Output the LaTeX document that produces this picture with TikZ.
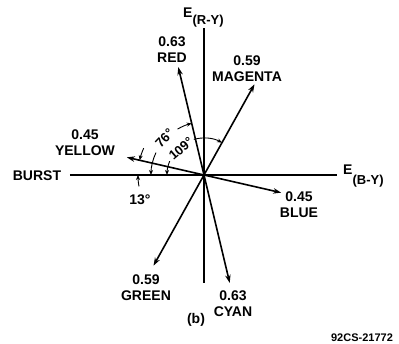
\documentclass[tikz,border=0pt]{standalone}
\usepackage{fontspec}
\setmainfont{Liberation Sans}
\usetikzlibrary{arrows.meta}

\begin{document}
\begin{tikzpicture}[x=1pt, y=1pt,
  vec/.style={line width=1.6pt, -{Stealth[length=8pt,width=5.5pt]}},
  axis/.style={line width=1.1pt},
  dim/.style={line width=0.9pt, -{Stealth[length=5pt,width=4pt]}},
  lbl/.style={font=\fontsize{14}{16}\selectfont\bfseries, align=center, inner sep=0pt},
  ang/.style={font=\fontsize{13}{13}\selectfont\bfseries, inner sep=0pt}]

  \useasboundingbox (-204,-169) rectangle (195,175);

  % --- 1. Axes ---
  \coordinate (O) at (0,0);
  \coordinate (burstend) at (-134,0);
  \coordinate (byend) at (133,0);
  \coordinate (rytop) at (0,147);
  \coordinate (rybot) at (0,-108);
  \draw[axis] (burstend) -- (byend);
  \draw[axis] (rybot) -- (rytop);
  \node[lbl, anchor=base west] (ry) at (-21,157)
    {E\raisebox{-7pt}{\fontsize{13}{13}\selectfont(R-Y)}};
  \node[lbl, anchor=base west] (by) at (139,0)
    {E\raisebox{-10pt}{\fontsize{13}{13}\selectfont(B-Y)}};
  \node[lbl] (burst) at (-167,-1) {BURST};

  % --- 2. Colour vectors: length = 176 x amplitude ---
  \coordinate (red) at (103.4:110.9);
  \coordinate (magenta) at (60.9:103.8);
  \coordinate (yellow) at (167.1:79.2);
  \coordinate (green) at (240.9:103.8);
  \coordinate (cyan) at (283.4:110.9);
  \coordinate (blue) at (347.1:79.2);
  \foreach \c in {red, magenta, yellow, green, cyan, blue}
    \draw[vec] (O) -- (\c);

  % --- 3. Vector labels ---
  \node[lbl] (lblred) at (-32,125.5) {0.63\\RED};
  \node[lbl] (lblmagenta) at (43,106) {0.59\\MAGENTA};
  \node[lbl] (lblyellow) at (-119,32) {0.45\\YELLOW};
  \node[lbl] (lblblue) at (95,-30) {0.45\\BLUE};
  \node[lbl] (lblgreen) at (-58,-113) {0.59\\GREEN};
  \node[lbl] (lblcyan) at (29,-129) {0.63\\CYAN};

  % --- 4. Angles ---
  % 76 deg: burst to red
  \draw[dim] (155:53) arc[start angle=155, end angle=180, radius=53];
  \draw[dim] (120:53) arc[start angle=120, end angle=103.4, radius=53];
  \node[ang, rotate=46.5] (a76) at (137:54) {76°};
  % 109 deg: burst to magenta
  \draw[dim] (158:37) arc[start angle=158, end angle=180, radius=37];
  \draw[dim] (106:37) arc[start angle=106, end angle=60.9, radius=37];
  \node[ang, rotate=40.6] (a109) at (131:35) {109°};
  % 13 deg: burst to yellow
  \draw[dim] (156:66) arc[start angle=156, end angle=167.1, radius=66];
  \draw[dim] (190:66) arc[start angle=190, end angle=180, radius=66];
  \node[lbl] (a13) at (-64,-25) {13°};

  % --- 5. Caption ---
  \node[lbl] (cap) at (-8,-145) {(b)};
  \node[font=\fontsize{11}{11}\selectfont\bfseries, inner sep=0pt] (serial) at (158,-163) {92CS-21772};

\end{tikzpicture}
\end{document}
